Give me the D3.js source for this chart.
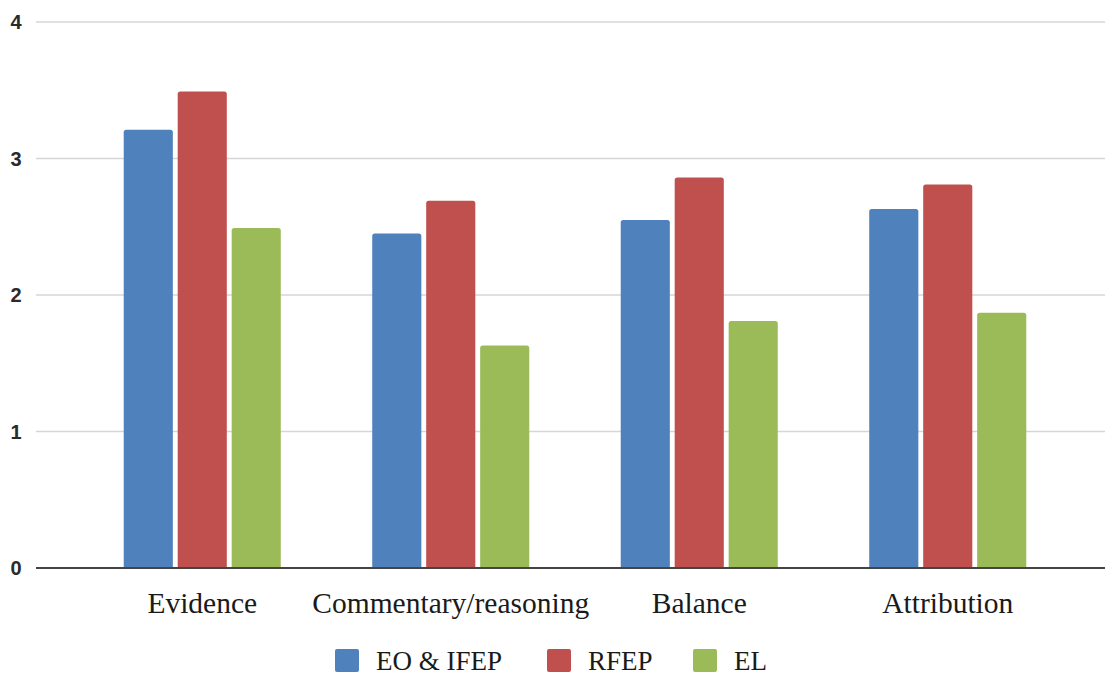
<!DOCTYPE html>
<html><head><meta charset="utf-8">
<script src="https://cdn.jsdelivr.net/npm/d3@7"></script>
<style>body{margin:0;background:#fff}svg{display:block}</style>
</head><body>
<svg id="chart" width="1105" height="675"></svg>
<script>
const categories = ["Evidence", "Commentary/reasoning", "Balance", "Attribution"];
const seriesNames = ["EO & IFEP", "RFEP", "EL"];
const eoIfep = [3.21, 2.45, 2.55, 2.63];
const rfep = [3.49, 2.69, 2.86, 2.81];
const el = [2.49, 1.63, 1.81, 1.87];
const yTicks = [0, 1, 2, 3, 4];
const colors = ["#4f81bd", "#c0504d", "#9bbb59"];

const seriesVals = [eoIfep, rfep, el];
const svg = d3.select("#chart");
const y = d3.scaleLinear().domain([0, 4]).range([568, 22]);
const x = d3.scaleBand().domain(categories).range([78, 1072]).paddingInner(0.368).paddingOuter(0.184);
const xs = d3.scaleBand().domain(seriesNames).range([0, x.bandwidth()]).paddingInner(0.09);

svg.append("g").selectAll("line").data(yTicks.filter(d => d > 0)).join("line")
  .attr("x1", 36).attr("x2", 1105).attr("y1", d => y(d)).attr("y2", d => y(d))
  .attr("stroke", "#d6d6d6").attr("stroke-width", 1.6);

svg.append("g").selectAll("text").data(yTicks).join("text")
  .attr("x", 16).attr("y", d => y(d)).attr("dy", "0.36em")
  .attr("text-anchor", "middle")
  .style("font-family", "'Liberation Sans', Arial, sans-serif").style("font-weight", "bold")
  .style("font-size", "20px").attr("fill", "#2a2a2a").text(d => d);

const groups = svg.append("g").selectAll("g").data(categories).join("g")
  .attr("transform", d => `translate(${x(d)},0)`);
groups.selectAll("path").data((c, i) => seriesNames.map((s, j) => ({s, v: seriesVals[j][i], j}))).join("path")
  .attr("fill", d => colors[d.j])
  .attr("d", d => {
    const x0 = xs(d.s), w = xs.bandwidth(), y0 = y(d.v), yb = y(0), r = 2.5;
    return `M${x0},${yb}V${y0 + r}Q${x0},${y0} ${x0 + r},${y0}H${x0 + w - r}Q${x0 + w},${y0} ${x0 + w},${y0 + r}V${yb}Z`;
  });

svg.append("line").attr("x1", 36).attr("x2", 1105).attr("y1", y(0)).attr("y2", y(0))
  .attr("stroke", "#444").attr("stroke-width", 1.8);

svg.append("g").selectAll("text").data(categories).join("text")
  .attr("x", d => x(d) + x.bandwidth() / 2).attr("y", 613)
  .attr("text-anchor", "middle")
  .style("font-family", "'Liberation Serif', 'Times New Roman', serif")
  .style("font-size", "29.5px").attr("fill", "#1a1a1a").text(d => d);

const legendX = [335, 547, 693];
const lg = svg.append("g")
  .style("font-family", "'Liberation Serif', 'Times New Roman', serif")
  .selectAll("g").data(seriesNames).join("g")
  .attr("transform", (d, i) => `translate(${legendX[i]},649)`);
lg.append("rect").attr("width", 24).attr("height", 23).attr("rx", 2).attr("fill", (d, i) => colors[i]);
lg.append("text").attr("x", 41).attr("y", 21)
  .style("font-family", "'Liberation Serif', 'Times New Roman', serif")
  .style("font-size", "27px").attr("fill", "#1a1a1a").text(d => d);
</script>
</body></html>
